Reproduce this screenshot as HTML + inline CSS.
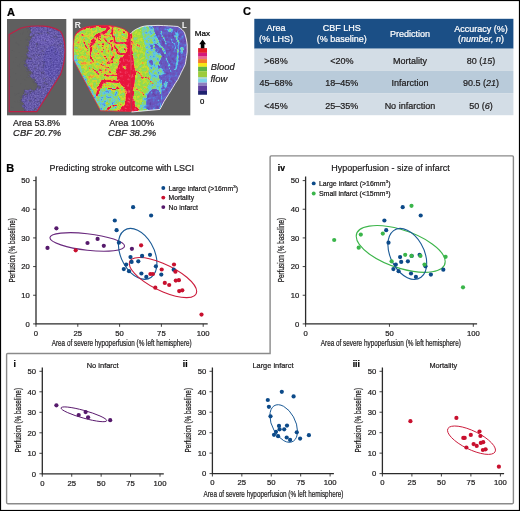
<!DOCTYPE html>
<html><head><meta charset="utf-8"><style>
html,body{margin:0;padding:0;background:#fff;}
body{width:520px;height:511px;overflow:hidden;font-family:"Liberation Sans", sans-serif;}
svg{display:block;will-change:transform;}
text{stroke-width:0.22px;}
</style></head><body>
<svg width="520" height="511" viewBox="0 0 520 511" font-family='"Liberation Sans", sans-serif'>
<rect width="520" height="511" fill="#fff"/>
<text x="7" y="15.5" font-size="11" font-weight="bold" fill="#000" stroke="#000" stroke-width="0.1">A</text>
<defs><clipPath id="lclip"><path d="M9.1,34.6 L20.5,28.2 C24,27 27,26.4 30.4,26.2 C34,26 38,25.9 43,26.1 C49,26.5 56,28.3 60.5,31.4 C63.2,35 64.8,42 65,50 C65,57 64.4,64 60.5,74.6 L36.8,111.6 L9.2,111.6 Z"/></clipPath>
<filter id="lspk" x="7" y="19" width="60" height="97" filterUnits="userSpaceOnUse" color-interpolation-filters="sRGB"><feGaussianBlur in="SourceAlpha" stdDeviation="2.2" result="b"/><feColorMatrix in="b" type="matrix" values="0 0 0 1 0 0 0 0 1 0 0 0 0 1 0 0 0 0 0 1" result="bg"/><feTurbulence type="fractalNoise" baseFrequency="0.28" numOctaves="3" seed="11" result="n"/><feColorMatrix in="n" type="matrix" values="1 0 0 0 0 1 0 0 0 0 1 0 0 0 0 0 0 0 0 1" result="ng"/><feComposite in="bg" in2="ng" operator="arithmetic" k1="0" k2="1" k3="1.2" k4="-0.6" result="m"/><feColorMatrix in="m" type="matrix" values="0 0 0 0 0 0 0 0 0 0 0 0 0 0 0 1 0 0 0 0" result="ma"/><feComponentTransfer in="ma" result="mt"><feFuncA type="table" tableValues="0 0 0.15 0.65 0.92 0.95"/></feComponentTransfer><feFlood flood-color="#6e60b8" result="pc"/><feComposite in="pc" in2="mt" operator="in"/><feGaussianBlur stdDeviation="0.4"/></filter><filter id="pspk" x="7" y="19" width="60" height="97" filterUnits="userSpaceOnUse" color-interpolation-filters="sRGB"><feTurbulence type="fractalNoise" baseFrequency="0.7" numOctaves="2" seed="5" result="n"/><feColorMatrix in="n" type="matrix" values="1 0 0 0 0 1 0 0 0 0 1 0 0 0 0 0 0 0 0 1" result="ng"/><feComposite in="SourceGraphic" in2="ng" operator="arithmetic" k1="0" k2="1" k3="0.32" k4="-0.16"/><feComposite operator="in" in2="SourceGraphic"/></filter></defs>
<rect x="7" y="19" width="59.3" height="96.3" fill="#5f5f5f"/>
<g clip-path="url(#lclip)"><g filter="url(#pspk)"><g filter="url(#lspk)">
<path d="M27,24 L27.7,28 C29,31 30.5,33 30.4,35 C29.5,39 28.5,42 28.2,45 C27.6,50 27,53 26.8,55 C26,58 25.2,61 25,62 C24.5,65 25,67 27.7,68 C28.2,71 28.4,73 28.6,75 C30,77 31.5,79 33.3,80 C35,82 36,84 37,85 C38.5,86.5 39.5,88 40,89 C36,89.5 30,89.5 24,90.5 C22,94 21,97 21,100 C21.5,104 22.5,107 23,112 L70,112 L70,24 Z" fill="#6f62c6"/>
<circle cx="18.5" cy="43.5" r="1.3" fill="#6f62c6"/>
<circle cx="20.5" cy="63" r="1.0" fill="#6f62c6"/>
<circle cx="22" cy="70" r="0.9" fill="#6f62c6"/>
<circle cx="25" cy="80" r="0.9" fill="#6f62c6"/>
<circle cx="21" cy="58" r="0.8" fill="#6f62c6"/>
</g>
<ellipse cx="52" cy="62" rx="9" ry="16" fill="#5a4fb4" opacity="0.5"/>
<ellipse cx="45" cy="40" rx="10" ry="6" fill="#7464c0" opacity="0.5"/>
</g></g>
<path d="M9.1,34.6 L20.5,28.2 C24,27 27,26.4 30.4,26.2 C34,26 38,25.9 43,26.1 C49,26.5 56,28.3 60.5,31.4 C63.2,35 64.8,42 65,50 C65,57 64.4,64 60.5,74.6 L36.8,111.6 L9.2,111.6 Z" fill="none" stroke="#bf1f45" stroke-width="1.15"/>
<defs>
<clipPath id="rh"><path d="M130.3,34 C127,30.5 124,28.8 121,28 C116,26.5 112,25.5 106,25.4 C100,25.3 92,25.6 86,27 C81,28.2 77.5,31 75.5,34.5 C73.8,38 73.3,43 73.3,50 L73.4,60 L100.5,110.8 L130.8,111.4 Z"/></clipPath><clipPath id="lhh"><path d="M130.3,34 C132.5,31.5 135,29.5 138,28.4 C140.5,27 143,26.2 147,25.8 L158,25.4 C166,25.6 172,26 177.9,26.5 C181,28.5 183.5,30.5 184.6,33 C186,37 186.8,41 187.2,45 L187.2,52 C186.6,57 185.8,61 185.2,64.6 C182.5,70 180,75 177.9,79.5 C174,85 171.5,90 168.6,94.3 C165.5,99 162.5,104 160,109.4 L131.5,112 Z"/></clipPath>
<filter id="cmap" x="72" y="18" width="120" height="98" filterUnits="userSpaceOnUse" color-interpolation-filters="sRGB"><feTurbulence type="fractalNoise" baseFrequency="0.12" numOctaves="2" seed="21" result="d"/><feDisplacementMap in="SourceGraphic" in2="d" scale="5" xChannelSelector="R" yChannelSelector="G" result="disp"/><feGaussianBlur in="disp" stdDeviation="0.75" result="b"/><feTurbulence type="fractalNoise" baseFrequency="0.32" numOctaves="2" seed="7" result="n"/><feColorMatrix in="n" type="matrix" values="1 0 0 0 0 1 0 0 0 0 1 0 0 0 0 0 0 0 0 1" result="ng"/><feTurbulence type="fractalNoise" baseFrequency="0.45" numOctaves="1" seed="3" result="m"/><feColorMatrix in="m" type="matrix" values="0 1 0 0 0 0 1 0 0 0 0 1 0 0 0 0 0 0 0 1" result="mg"/><feComponentTransfer in="mg" result="ms"><feFuncR type="table" tableValues="0 0 0 0.1 0.5 1"/><feFuncG type="table" tableValues="0 0 0 0.1 0.5 1"/><feFuncB type="table" tableValues="0 0 0 0.1 0.5 1"/></feComponentTransfer><feComposite in="b" in2="ng" operator="arithmetic" k1="0" k2="1" k3="0.55" k4="-0.275" result="s1"/><feComposite in="s1" in2="ms" operator="arithmetic" k1="0" k2="1" k3="0.3" k4="0" result="s"/><feComponentTransfer in="s"><feFuncR type="table" tableValues="0.376 0.424 0.400 0.329 0.361 0.541 0.596 0.804 0.965 0.941 0.910"/><feFuncG type="table" tableValues="0.251 0.314 0.369 0.510 0.784 0.839 0.863 0.871 0.627 0.235 0.086"/><feFuncB type="table" tableValues="0.635 0.714 0.776 0.871 0.933 0.471 0.243 0.196 0.204 0.392 0.243"/><feFuncA type="identity"/></feComponentTransfer><feGaussianBlur stdDeviation="0.35"/></filter>
<filter id="cmapL" x="72" y="18" width="120" height="98" filterUnits="userSpaceOnUse" color-interpolation-filters="sRGB"><feTurbulence type="fractalNoise" baseFrequency="0.12" numOctaves="2" seed="21" result="d"/><feDisplacementMap in="SourceGraphic" in2="d" scale="5" xChannelSelector="R" yChannelSelector="G" result="disp"/><feGaussianBlur in="disp" stdDeviation="0.75" result="b"/><feTurbulence type="fractalNoise" baseFrequency="0.32" numOctaves="2" seed="9" result="n"/><feColorMatrix in="n" type="matrix" values="1 0 0 0 0 1 0 0 0 0 1 0 0 0 0 0 0 0 0 1" result="ng"/><feTurbulence type="fractalNoise" baseFrequency="0.45" numOctaves="1" seed="3" result="m"/><feColorMatrix in="m" type="matrix" values="0 1 0 0 0 0 1 0 0 0 0 1 0 0 0 0 0 0 0 1" result="mg"/><feComponentTransfer in="mg" result="ms"><feFuncR type="table" tableValues="0 0 0 0.1 0.5 1"/><feFuncG type="table" tableValues="0 0 0 0.1 0.5 1"/><feFuncB type="table" tableValues="0 0 0 0.1 0.5 1"/></feComponentTransfer><feComposite in="b" in2="ng" operator="arithmetic" k1="0" k2="1" k3="0.42" k4="-0.21" result="s1"/><feComposite in="s1" in2="ms" operator="arithmetic" k1="0" k2="1" k3="0.3" k4="0" result="s"/><feComponentTransfer in="s"><feFuncR type="table" tableValues="0.376 0.424 0.400 0.329 0.361 0.541 0.596 0.804 0.965 0.941 0.910"/><feFuncG type="table" tableValues="0.251 0.314 0.369 0.510 0.784 0.839 0.863 0.871 0.627 0.235 0.086"/><feFuncB type="table" tableValues="0.635 0.714 0.776 0.871 0.933 0.471 0.243 0.196 0.204 0.392 0.243"/><feFuncA type="identity"/></feComponentTransfer><feGaussianBlur stdDeviation="0.35"/></filter>
<filter id="vb" x="-20%" y="-20%" width="140%" height="140%"><feGaussianBlur stdDeviation="0.5"/></filter>
</defs>
<rect x="72.8" y="18.7" width="117.5" height="96.7" fill="#5f5f5f"/>
<g clip-path="url(#rh)"><g filter="url(#cmap)">
<rect x="72" y="18" width="62" height="98" fill="#9f9f9f"/>
<path d="M72,50 L76,52 C78,58 79,62 80,66 L86,78 C89,84 92,88 95,93 L100,100 L104,112 L72,112 Z" fill="#6e6e6e"/>
<path d="M97,92 C100,88 106,87 112,88 C117,89 119,93 119,99 C119,104 117,108 114,110 L100,112 Z" fill="#6e6e6e"/>
<ellipse cx="75" cy="57" rx="3" ry="4" fill="#6e6e6e"/>
<path d="M72,20 L134,20 L134,33 C131,32.5 128,30.5 124,29 C118,27.5 110,27 100,27.2 C92,27.5 85,28.8 80,31 L72,37 Z" fill="#ffffff"/>
<path d="M127.8,30 L132.2,30 L132.4,50 C133,56 134,62 134.5,68 C135,74 135,80 134.5,86 C134,92 133.5,98 134,104 C135,107 138,109 141,112 L116,112 C119,110 122,108 124.5,105 C126,100 126,94 125,89 C123,86 119,83 117,78 C117,72 118,66 119.5,61 C122,57 125,54 127,51 Z" fill="#fff"/>
<g stroke="#fff" fill="none" stroke-linecap="round">
<path d="M118,82 C112,80.5 107,80.5 103,82 C100,84 98.5,88 97.5,95" stroke-width="2.8"/>
<path d="M118,76 C113,75 109,75 105,76" stroke-width="1.5"/>
<path d="M118,89 C114,90 111,90 108,89" stroke-width="1.4"/>
<path d="M134.5,72 C139,74.5 144,77 148,79 C150,80 152,81 154,82.5" stroke-width="1.0"/>
<path d="M136,88 C139,90 141,92 143,95" stroke-width="0.9"/>
<path d="M118,104 C114,105 110,107 106,110" stroke-width="1.6"/>
</g>
<g stroke="#fff" fill="none" stroke-linecap="round" stroke-linejoin="round">
<path d="M111,27 C107,30 103,32.5 99,35 C96,37 93.5,39 92,42" stroke-width="3.0"/>
<path d="M92,42 C91,46 90.5,50 90.6,55 C90.8,58 91,60 92,62" stroke-width="1.8"/>
<path d="M113,29 C113.5,33 114,37 115,42" stroke-width="1.7"/>
<path d="M115,42.5 C119,43.5 123,43.5 128,42.5" stroke-width="1.3"/>
<path d="M116,45 C116,48 116.5,51 118,53.5 C121,54.5 124,54 127,53" stroke-width="1.4"/>
<path d="M114,53 C112.5,56 111,59 109,62" stroke-width="1.5"/>
<path d="M84,40 C85,44 86,47 87.5,50" stroke-width="1.1"/>
<path d="M100,64 C103,66 106,68 110,70" stroke-width="1.1"/>
<path d="M94,68 C96,70 98,72 99,75" stroke-width="1.0"/>
<path d="M105,38 C106,42 108,45 111,47" stroke-width="1.3"/>
</g>
<circle cx="101.8" cy="33.9" r="0.88" fill="#dfdfdf"/>
<circle cx="99.1" cy="39.2" r="1.24" fill="#f7f7f7"/>
<circle cx="110.2" cy="36.0" r="0.98" fill="#e3e3e3"/>
<circle cx="100.8" cy="33.9" r="0.75" fill="#fcfcfc"/>
<circle cx="111.3" cy="46.5" r="1.16" fill="#e0e0e0"/>
<circle cx="103.0" cy="43.3" r="1.11" fill="#f9f9f9"/>
<circle cx="112.1" cy="33.6" r="1.02" fill="#f2f2f2"/>
<circle cx="106.1" cy="35.2" r="0.93" fill="#dcdcdc"/>
<circle cx="113.0" cy="47.6" r="0.98" fill="#e4e4e4"/>
<circle cx="112.5" cy="42.3" r="1.22" fill="#f9f9f9"/>
<circle cx="106.1" cy="39.5" r="1.02" fill="#e9e9e9"/>
<circle cx="100.6" cy="37.5" r="1.17" fill="#dadada"/>
<circle cx="98.7" cy="43.3" r="0.80" fill="#ededed"/>
<circle cx="105.5" cy="38.2" r="1.30" fill="#e0e0e0"/>
<circle cx="104.6" cy="35.6" r="1.04" fill="#e3e3e3"/>
<circle cx="103.7" cy="45.4" r="0.82" fill="#eeeeee"/>
<circle cx="112.5" cy="33.8" r="0.64" fill="#e2e2e2"/>
<circle cx="110.2" cy="43.1" r="0.77" fill="#e5e5e5"/>
<circle cx="100.8" cy="40.3" r="0.63" fill="#f3f3f3"/>
<circle cx="112.3" cy="49.2" r="1.11" fill="#fdfdfd"/>
<circle cx="98.3" cy="37.2" r="1.28" fill="#f6f6f6"/>
<circle cx="104.6" cy="49.0" r="1.03" fill="#f8f8f8"/>
<circle cx="90.8" cy="63.4" r="0.91" fill="#c6c6c6"/>
<circle cx="93.4" cy="77.3" r="0.83" fill="#c0c0c0"/>
<circle cx="83.3" cy="63.1" r="1.15" fill="#d2d2d2"/>
<circle cx="90.7" cy="61.7" r="1.29" fill="#d5d5d5"/>
<circle cx="88.2" cy="61.1" r="0.64" fill="#c8c8c8"/>
<circle cx="102.3" cy="62.7" r="0.63" fill="#d8d8d8"/>
<circle cx="89.5" cy="78.0" r="0.69" fill="#dadada"/>
<circle cx="105.2" cy="67.4" r="1.29" fill="#d8d8d8"/>
<circle cx="89.3" cy="67.4" r="0.63" fill="#d5d5d5"/>
<circle cx="89.5" cy="76.0" r="1.18" fill="#d9d9d9"/>
<circle cx="82.9" cy="64.6" r="0.77" fill="#cacaca"/>
<circle cx="88.9" cy="75.7" r="0.70" fill="#c2c2c2"/>
<circle cx="109.8" cy="70.2" r="1.29" fill="#d4d4d4"/>
<circle cx="109.0" cy="71.8" r="1.15" fill="#e5e5e5"/>
<circle cx="96.8" cy="61.7" r="0.75" fill="#ececec"/>
<circle cx="109.0" cy="76.6" r="0.84" fill="#e1e1e1"/>
<circle cx="106.0" cy="71.6" r="1.17" fill="#dadada"/>
<circle cx="101.6" cy="72.3" r="0.79" fill="#eeeeee"/>
<circle cx="110.7" cy="61.3" r="1.28" fill="#f0f0f0"/>
<circle cx="102.1" cy="60.8" r="1.23" fill="#c6c6c6"/>
<circle cx="111.1" cy="72.0" r="0.64" fill="#c8c8c8"/>
<circle cx="101.1" cy="70.2" r="1.12" fill="#efefef"/>
<circle cx="82.4" cy="36.1" r="1.25" fill="#b8b8b8"/>
<circle cx="95.5" cy="38.5" r="1.17" fill="#dcdcdc"/>
<circle cx="95.6" cy="48.1" r="1.22" fill="#c1c1c1"/>
<circle cx="91.4" cy="43.3" r="1.22" fill="#dbdbdb"/>
<circle cx="87.4" cy="47.6" r="0.62" fill="#b9b9b9"/>
<circle cx="89.9" cy="46.8" r="1.21" fill="#d4d4d4"/>
<circle cx="80.8" cy="44.0" r="1.14" fill="#d0d0d0"/>
<circle cx="78.2" cy="54.4" r="1.18" fill="#bcbcbc"/>
<circle cx="88.9" cy="44.4" r="1.15" fill="#c6c6c6"/>
<circle cx="82.7" cy="46.7" r="1.28" fill="#bcbcbc"/>
<circle cx="80.3" cy="49.7" r="1.22" fill="#cfcfcf"/>
<circle cx="86.7" cy="54.9" r="1.14" fill="#bbbbbb"/>
<circle cx="95.6" cy="40.3" r="0.81" fill="#dedede"/>
<circle cx="86.4" cy="53.6" r="0.72" fill="#e0e0e0"/>
<circle cx="103.2" cy="51.8" r="0.95" fill="#dddddd"/>
<circle cx="109.8" cy="60.8" r="1.10" fill="#cccccc"/>
<circle cx="105.6" cy="56.5" r="0.94" fill="#f0f0f0"/>
<circle cx="108.7" cy="50.9" r="0.77" fill="#f7f7f7"/>
<circle cx="106.4" cy="59.2" r="1.29" fill="#ececec"/>
<circle cx="112.2" cy="57.3" r="0.82" fill="#fbfbfb"/>
<circle cx="108.4" cy="60.9" r="0.81" fill="#f8f8f8"/>
<circle cx="114.2" cy="57.4" r="0.91" fill="#d3d3d3"/>
<circle cx="113.9" cy="54.3" r="1.06" fill="#d3d3d3"/>
<circle cx="101.5" cy="51.7" r="1.17" fill="#d5d5d5"/>
<circle cx="127.0" cy="39.7" r="1.00" fill="#dedede"/>
<circle cx="124.2" cy="32.4" r="0.88" fill="#fcfcfc"/>
<circle cx="119.8" cy="47.0" r="0.83" fill="#dbdbdb"/>
<circle cx="118.2" cy="30.5" r="1.26" fill="#f6f6f6"/>
<circle cx="126.0" cy="51.0" r="1.27" fill="#d4d4d4"/>
<circle cx="123.8" cy="42.9" r="1.00" fill="#fcfcfc"/>
<circle cx="125.6" cy="55.2" r="0.68" fill="#ededed"/>
<circle cx="124.8" cy="49.4" r="1.03" fill="#f6f6f6"/>
<circle cx="121.0" cy="54.1" r="0.88" fill="#ebebeb"/>
<circle cx="127.0" cy="48.3" r="0.82" fill="#d8d8d8"/>
<ellipse cx="124" cy="68" rx="1.6" ry="2.5" fill="#adadad"/>
</g></g>
<g clip-path="url(#lhh)"><g filter="url(#cmapL)">
<rect x="128" y="18" width="62" height="98" fill="#242424"/>
<path d="M128,20 L152,20 C153,30 155,40 156,46 C157,54 157.5,60 158,66 C159,72 160,78 161,82 C162,86 163,88 163,90 L160,112 L128,112 Z" fill="#6e6e6e"/>
<path d="M128,20 L140,20 C141,28 142.5,36 144,42 C145.5,50 146.5,58 147.5,65 C148.5,71 149.5,76 149.5,80 C149,86 148,90 145,94 C142,98 140,104 139,112 L128,112 Z" fill="#999999"/>
<path d="M147,112 C146,104 146,98 148,94 C151,89 156,88 160,90 C162,94 162,100 160,106 L158,112 Z" fill="#262626"/>
<ellipse cx="143" cy="27" rx="8" ry="2.5" fill="#737373"/>
<ellipse cx="158" cy="58" rx="3" ry="4" fill="#6b6b6b"/>
<ellipse cx="162" cy="72" rx="3.5" ry="3" fill="#6b6b6b"/>
<ellipse cx="156" cy="40" rx="2.5" ry="3" fill="#6b6b6b"/>
<ellipse cx="166" cy="84" rx="2.5" ry="2.5" fill="#666666"/>
<ellipse cx="151" cy="62" rx="2" ry="3" fill="#333333"/>
<ellipse cx="153" cy="47" rx="1.8" ry="2.5" fill="#383838"/>
<ellipse cx="150" cy="28" rx="2" ry="1.5" fill="#404040"/>
<ellipse cx="170" cy="30" rx="3" ry="2" fill="#5c5c5c"/>
<ellipse cx="182" cy="50" rx="2" ry="4" fill="#5c5c5c"/>
<path d="M127.8,30 L132.2,30 L132.4,50 C133,56 134,62 134.5,68 C135,74 135,80 134.5,86 C134,92 133.5,98 134,104 C135,107 138,109 141,112 L116,112 C119,110 122,108 124.5,105 C126,100 126,94 125,89 C123,86 119,83 117,78 C117,72 118,66 119.5,61 C122,57 125,54 127,51 Z" fill="#fff"/>
<g stroke="#fff" fill="none" stroke-linecap="round">
<path d="M118,82 C112,80.5 107,80.5 103,82 C100,84 98.5,88 97.5,95" stroke-width="2.8"/>
<path d="M118,76 C113,75 109,75 105,76" stroke-width="1.5"/>
<path d="M118,89 C114,90 111,90 108,89" stroke-width="1.4"/>
<path d="M134.5,72 C139,74.5 144,77 148,79 C150,80 152,81 154,82.5" stroke-width="1.0"/>
<path d="M136,88 C139,90 141,92 143,95" stroke-width="0.9"/>
<path d="M118,104 C114,105 110,107 106,110" stroke-width="1.6"/>
</g>
<g stroke-linecap="round" fill="none">
<path d="M152,32 C156,38 160,44 164,52" stroke="#666666" stroke-width="2.2"/>
<path d="M161,30 C163,35 165,40 167,45" stroke="#6b6b6b" stroke-width="1.2"/>
<path d="M176,33 C177,40 178,47 178,55 C178,60 177,64 176,68" stroke="#666666" stroke-width="2.0"/>
<path d="M166,58 C168,62 170,66 171,72" stroke="#666666" stroke-width="1.1"/>
<path d="M133,42 C137,44 140,46 143,47" stroke="#d9d9d9" stroke-width="1.0"/>
<path d="M158,64 C161,67 163,70 165,73" stroke="#666666" stroke-width="1.0"/>
<path d="M172,40 C174,44 175,48 175,52" stroke="#5c5c5c" stroke-width="1.0"/>
</g>
</g></g>
<path d="M130.3,34 C127,30.5 124,28.8 121,28 C116,26.5 112,25.5 106,25.4 C100,25.3 92,25.6 86,27 C81,28.2 77.5,31 75.5,34.5 C73.8,38 73.3,43 73.3,50 L73.4,60 L100.5,110.8 L130.8,111.4 Z" fill="none" stroke="#e42a3c" stroke-width="0.8"/>
<path d="M130.3,34 C132.5,31.5 135,29.5 138,28.4 C140.5,27 143,26.2 147,25.8 L158,25.4 C166,25.6 172,26 177.9,26.5 C181,28.5 183.5,30.5 184.6,33 C186,37 186.8,41 187.2,45 L187.2,52 C186.6,57 185.8,61 185.2,64.6 C182.5,70 180,75 177.9,79.5 C174,85 171.5,90 168.6,94.3 C165.5,99 162.5,104 160,109.4 L131.5,112" fill="none" stroke="#f2f2f2" stroke-width="0.9"/>
<line x1="130.6" y1="36" x2="131.2" y2="70" stroke="#f4b0c0" stroke-width="0.5" opacity="0.5"/>
<text x="74.8" y="27.5" font-size="8.4" fill="#fff" stroke="#fff" stroke-width="0.1">R</text>
<text x="182" y="27.5" font-size="8.4" fill="#fff" stroke="#fff" stroke-width="0.1">L</text>
<rect x="198.1" y="48.1" width="8.9" height="4.75" fill="#e31e26"/>
<rect x="198.1" y="52.8" width="8.9" height="3.85" fill="#d4197c"/>
<rect x="198.1" y="56.6" width="8.9" height="2.55" fill="#ec6d8c"/>
<rect x="198.1" y="59.1" width="8.9" height="3.95" fill="#f47a2a"/>
<rect x="198.1" y="63" width="8.9" height="3.85" fill="#f7e617"/>
<rect x="198.1" y="66.8" width="8.9" height="4.45" fill="#5db546"/>
<rect x="198.1" y="71.2" width="8.9" height="5.85" fill="#9ccb3b"/>
<rect x="198.1" y="77" width="8.9" height="1.85" fill="#a8d8c8"/>
<rect x="198.1" y="78.8" width="8.9" height="3.85" fill="#7ed3ea"/>
<rect x="198.1" y="82.6" width="8.9" height="3.25" fill="#8e7fc0"/>
<rect x="198.1" y="85.8" width="8.9" height="5.15" fill="#5e3f9e"/>
<rect x="198.1" y="90.9" width="8.9" height="3.85" fill="#1f2370"/>
<path d="M202.6,39.6 L206,44.3 L204.4,44.3 L204.4,48.3 L200.8,48.3 L200.8,44.3 L199.2,44.3 Z" fill="#000"/>
<text x="194.7" y="36.4" font-size="8.1" textLength="15.3" lengthAdjust="spacingAndGlyphs" fill="#000" stroke="#000">Max</text>
<text x="200" y="104" font-size="7.8" fill="#000" stroke="#000">0</text>
<text x="210.8" y="70.4" font-size="9.2" font-style="italic" textLength="23.8" lengthAdjust="spacingAndGlyphs" fill="#1e1c1d" stroke="#1e1c1d">Blood</text>
<text x="210.5" y="81.5" font-size="9.2" font-style="italic" textLength="16.8" lengthAdjust="spacingAndGlyphs" fill="#1e1c1d" stroke="#1e1c1d">flow</text>
<text x="13.1" y="125.8" font-size="9" textLength="47" lengthAdjust="spacingAndGlyphs" fill="#1e1c1d" stroke="#1e1c1d">Area 53.8%</text>
<text x="13.1" y="136.3" font-size="9" font-style="italic" textLength="48" lengthAdjust="spacingAndGlyphs" fill="#1e1c1d" stroke="#1e1c1d">CBF 20.7%</text>
<text x="109.2" y="125.8" font-size="9" textLength="45" lengthAdjust="spacingAndGlyphs" fill="#1e1c1d" stroke="#1e1c1d">Area 100%</text>
<text x="108.1" y="136.3" font-size="9" font-style="italic" textLength="48" lengthAdjust="spacingAndGlyphs" fill="#1e1c1d" stroke="#1e1c1d">CBF 38.2%</text>
<text x="243.1" y="15.4" font-size="11" font-weight="bold" fill="#000" stroke="#000" stroke-width="0.15">C</text>
<rect x="254.3" y="18.8" width="259.1" height="29.9" fill="#1b4f86"/>
<rect x="254.3" y="48.7" width="259.1" height="22.2" fill="#d3dde6"/>
<rect x="254.3" y="70.9" width="259.1" height="22.2" fill="#b9cbda"/>
<rect x="254.3" y="93.1" width="259.1" height="22.1" fill="#d3dde6"/>
<text x="276" y="31" font-size="9" text-anchor="middle" fill="#ffffff" stroke="#ffffff" stroke-width="0.1">Area</text>
<text x="276" y="42" font-size="9" text-anchor="middle" fill="#ffffff" stroke="#ffffff" stroke-width="0.1">(% LHS)</text>
<text x="341.8" y="31" font-size="9" text-anchor="middle" fill="#ffffff" stroke="#ffffff" stroke-width="0.1">CBF LHS</text>
<text x="341.8" y="42" font-size="9" text-anchor="middle" fill="#ffffff" stroke="#ffffff" stroke-width="0.1">(% baseline)</text>
<text x="409.9" y="37" font-size="9" text-anchor="middle" fill="#ffffff" stroke="#ffffff" stroke-width="0.1">Prediction</text>
<text x="481" y="31.5" font-size="9" text-anchor="middle" fill="#ffffff" stroke="#ffffff" stroke-width="0.1">Accuracy (%)</text>
<text x="481" y="42.3" font-size="9" text-anchor="middle" fill="#fff" stroke="#fff" stroke-width="0.1">(<tspan font-style="italic">number, n</tspan>)</text>
<text x="276" y="64.2" font-size="9" text-anchor="middle" fill="#1e1c1d" stroke="#1e1c1d">&gt;68%</text>
<text x="341.8" y="64.2" font-size="9" text-anchor="middle" fill="#1e1c1d" stroke="#1e1c1d">&lt;20%</text>
<text x="409.9" y="64.2" font-size="9" text-anchor="middle" fill="#1e1c1d" stroke="#1e1c1d">Mortality</text>
<text x="481" y="64.2" font-size="9" text-anchor="middle" fill="#1e1c1d" stroke="#1e1c1d">80 (<tspan font-style="italic">15</tspan>)</text>
<text x="276" y="86.4" font-size="9" text-anchor="middle" fill="#1e1c1d" stroke="#1e1c1d">45–68%</text>
<text x="341.8" y="86.4" font-size="9" text-anchor="middle" fill="#1e1c1d" stroke="#1e1c1d">18–45%</text>
<text x="409.9" y="86.4" font-size="9" text-anchor="middle" fill="#1e1c1d" stroke="#1e1c1d">Infarction</text>
<text x="481" y="86.4" font-size="9" text-anchor="middle" fill="#1e1c1d" stroke="#1e1c1d">90.5 (<tspan font-style="italic">21</tspan>)</text>
<text x="276" y="108.6" font-size="9" text-anchor="middle" fill="#1e1c1d" stroke="#1e1c1d">&lt;45%</text>
<text x="341.8" y="108.6" font-size="9" text-anchor="middle" fill="#1e1c1d" stroke="#1e1c1d">25–35%</text>
<text x="409.9" y="108.6" font-size="9" text-anchor="middle" fill="#1e1c1d" stroke="#1e1c1d">No infarction</text>
<text x="481" y="108.6" font-size="9" text-anchor="middle" fill="#1e1c1d" stroke="#1e1c1d">50 (<tspan font-style="italic">6</tspan>)</text>
<path d="M270.1,157 Q270.1,155.9 271.2,155.9 H512.3 Q513.4,155.9 513.4,157 V502.6 Q513.4,503.7 512.3,503.7 H7.7 Q6.6,503.7 6.6,502.6 V354.6 Q6.6,353.5 7.7,353.5 H270.1 Z" fill="none" stroke="#8a8a8a" stroke-width="1.4"/>
<text x="6.3" y="171.8" font-size="11" font-weight="bold" fill="#000" stroke="#000" stroke-width="0.1">B</text>
<text x="49.5" y="170.7" font-size="9.5" textLength="144.5" lengthAdjust="spacingAndGlyphs" fill="#1e1c1d" stroke="#1e1c1d">Predicting stroke outcome with LSCI</text>
<path d="M36,176.5 V323.9 H207.7" fill="none" stroke="#2b2b2b" stroke-width="1.3"/>
<line x1="33.1" y1="323.90" x2="36" y2="323.90" stroke="#2b2b2b" stroke-width="0.9"/>
<text x="29.8" y="326.65" font-size="7.7" text-anchor="end" fill="#1e1c1d" stroke="#1e1c1d" stroke-width="0.05">0</text>
<line x1="33.1" y1="295.24" x2="36" y2="295.24" stroke="#2b2b2b" stroke-width="0.9"/>
<text x="29.8" y="297.99" font-size="7.7" text-anchor="end" fill="#1e1c1d" stroke="#1e1c1d" stroke-width="0.05">10</text>
<line x1="33.1" y1="266.58" x2="36" y2="266.58" stroke="#2b2b2b" stroke-width="0.9"/>
<text x="29.8" y="269.33" font-size="7.7" text-anchor="end" fill="#1e1c1d" stroke="#1e1c1d" stroke-width="0.05">20</text>
<line x1="33.1" y1="237.92" x2="36" y2="237.92" stroke="#2b2b2b" stroke-width="0.9"/>
<text x="29.8" y="240.67" font-size="7.7" text-anchor="end" fill="#1e1c1d" stroke="#1e1c1d" stroke-width="0.05">30</text>
<line x1="33.1" y1="209.26" x2="36" y2="209.26" stroke="#2b2b2b" stroke-width="0.9"/>
<text x="29.8" y="212.01" font-size="7.7" text-anchor="end" fill="#1e1c1d" stroke="#1e1c1d" stroke-width="0.05">40</text>
<line x1="33.1" y1="180.60" x2="36" y2="180.60" stroke="#2b2b2b" stroke-width="0.9"/>
<text x="29.8" y="183.35" font-size="7.7" text-anchor="end" fill="#1e1c1d" stroke="#1e1c1d" stroke-width="0.05">50</text>
<line x1="36.00" y1="323.9" x2="36.00" y2="326.79999999999995" stroke="#2b2b2b" stroke-width="0.9"/>
<text x="36.0" y="335.7" font-size="7.7" text-anchor="middle" fill="#1e1c1d" stroke="#1e1c1d" stroke-width="0.05">0</text>
<line x1="77.80" y1="323.9" x2="77.80" y2="326.79999999999995" stroke="#2b2b2b" stroke-width="0.9"/>
<text x="77.8" y="335.7" font-size="7.7" text-anchor="middle" fill="#1e1c1d" stroke="#1e1c1d" stroke-width="0.05">25</text>
<line x1="119.60" y1="323.9" x2="119.60" y2="326.79999999999995" stroke="#2b2b2b" stroke-width="0.9"/>
<text x="119.6" y="335.7" font-size="7.7" text-anchor="middle" fill="#1e1c1d" stroke="#1e1c1d" stroke-width="0.05">50</text>
<line x1="161.40" y1="323.9" x2="161.40" y2="326.79999999999995" stroke="#2b2b2b" stroke-width="0.9"/>
<text x="161.4" y="335.7" font-size="7.7" text-anchor="middle" fill="#1e1c1d" stroke="#1e1c1d" stroke-width="0.05">75</text>
<line x1="203.20" y1="323.9" x2="203.20" y2="326.79999999999995" stroke="#2b2b2b" stroke-width="0.9"/>
<text x="203.2" y="335.7" font-size="7.7" text-anchor="middle" fill="#1e1c1d" stroke="#1e1c1d" stroke-width="0.05">100</text>
<text transform="translate(15.4,250.3) rotate(-90)" font-size="8.8" text-anchor="middle" textLength="64.5" lengthAdjust="spacingAndGlyphs" fill="#1e1c1d" stroke="#1e1c1d" stroke-width="0.12">Perfusion (% baseline)</text>
<text x="51.7" y="346.1" font-size="8.7" textLength="140" lengthAdjust="spacingAndGlyphs" fill="#1e1c1d" stroke="#1e1c1d" stroke-width="0.12">Area of severe hypoperfusion (% left hemisphere)</text>
<circle cx="163.3" cy="188.0" r="1.95" fill="#0c4a89"/>
<text x="168.5" y="190.6" font-size="6.9" fill="#1e1c1d" stroke="#1e1c1d" textLength="64.6" lengthAdjust="spacingAndGlyphs">Large infarct (&gt;16mm</text>
<text x="233.29999999999998" y="188.0" font-size="4.4" fill="#1e1c1d" stroke="#1e1c1d" stroke-width="0.1">3</text>
<text x="235.79999999999998" y="190.6" font-size="6.9" fill="#1e1c1d" stroke="#1e1c1d">)</text>
<circle cx="163.3" cy="197.6" r="1.95" fill="#c8102e"/>
<text x="168.5" y="200.2" font-size="6.9" fill="#1e1c1d" stroke="#1e1c1d" textLength="25.6" lengthAdjust="spacingAndGlyphs">Mortality</text>
<circle cx="163.3" cy="207.1" r="1.95" fill="#561a6c"/>
<text x="168.5" y="209.7" font-size="6.9" fill="#1e1c1d" stroke="#1e1c1d" textLength="29.4" lengthAdjust="spacingAndGlyphs">No infarct</text>
<circle r="1" transform="matrix(37.350,4.150,0,8.267,87.25,241.95)" fill="none" stroke="#6a2a7e" stroke-width="1.1" vector-effect="non-scaling-stroke"/>
<circle r="1" transform="matrix(19.250,9.351,0,23.670,137.65,253.85)" fill="none" stroke="#1a5a96" stroke-width="1.1" vector-effect="non-scaling-stroke"/>
<circle r="1" transform="matrix(33.700,13.947,0,14.405,163,277.55)" fill="none" stroke="#cc1c3c" stroke-width="1.1" vector-effect="non-scaling-stroke"/>
<circle cx="47.5" cy="247.9" r="2.1" fill="#561a6c"/>
<circle cx="56.4" cy="228.3" r="2.1" fill="#561a6c"/>
<circle cx="87.5" cy="243.0" r="2.1" fill="#561a6c"/>
<circle cx="97.6" cy="238.9" r="2.1" fill="#561a6c"/>
<circle cx="103.8" cy="245.8" r="2.1" fill="#561a6c"/>
<circle cx="131.9" cy="248.8" r="2.1" fill="#561a6c"/>
<circle cx="133.1" cy="207.2" r="2.1" fill="#0c4a89"/>
<circle cx="151.1" cy="215.5" r="2.1" fill="#0c4a89"/>
<circle cx="114.8" cy="220.5" r="2.1" fill="#0c4a89"/>
<circle cx="116.6" cy="230.2" r="2.1" fill="#0c4a89"/>
<circle cx="118.9" cy="242.7" r="2.1" fill="#0c4a89"/>
<circle cx="130.5" cy="257.1" r="2.1" fill="#0c4a89"/>
<circle cx="142.1" cy="255.9" r="2.1" fill="#0c4a89"/>
<circle cx="150.0" cy="254.8" r="2.1" fill="#0c4a89"/>
<circle cx="131.6" cy="261.9" r="2.1" fill="#0c4a89"/>
<circle cx="138.3" cy="261.3" r="2.1" fill="#0c4a89"/>
<circle cx="126.2" cy="264.6" r="2.1" fill="#0c4a89"/>
<circle cx="123.8" cy="269.1" r="2.1" fill="#0c4a89"/>
<circle cx="129.0" cy="271.2" r="2.1" fill="#0c4a89"/>
<circle cx="155.9" cy="266.3" r="2.1" fill="#0c4a89"/>
<circle cx="141.4" cy="273.5" r="2.1" fill="#0c4a89"/>
<circle cx="146.3" cy="276.9" r="2.1" fill="#0c4a89"/>
<circle cx="161.3" cy="274.6" r="2.1" fill="#0c4a89"/>
<circle cx="173.7" cy="269.7" r="2.1" fill="#0c4a89"/>
<circle cx="75.7" cy="250.3" r="2.1" fill="#c8102e"/>
<circle cx="141.1" cy="245.3" r="2.1" fill="#c8102e"/>
<circle cx="161.7" cy="269.5" r="2.1" fill="#c8102e"/>
<circle cx="174.0" cy="264.5" r="2.1" fill="#c8102e"/>
<circle cx="175.4" cy="271.7" r="2.1" fill="#c8102e"/>
<circle cx="150.4" cy="274.0" r="2.1" fill="#c8102e"/>
<circle cx="152.9" cy="274.0" r="2.1" fill="#c8102e"/>
<circle cx="175.8" cy="280.6" r="2.1" fill="#c8102e"/>
<circle cx="178.9" cy="280.2" r="2.1" fill="#c8102e"/>
<circle cx="164.8" cy="282.9" r="2.1" fill="#c8102e"/>
<circle cx="169.2" cy="285.0" r="2.1" fill="#c8102e"/>
<circle cx="155.3" cy="287.7" r="2.1" fill="#c8102e"/>
<circle cx="179.2" cy="291.1" r="2.1" fill="#c8102e"/>
<circle cx="182.3" cy="290.3" r="2.1" fill="#c8102e"/>
<circle cx="201.5" cy="314.6" r="2.1" fill="#c8102e"/>
<text x="277.8" y="170.8" font-size="8.6" font-weight="bold" fill="#000" stroke="#000" stroke-width="0.1">iv</text>
<text x="331.3" y="170.7" font-size="9.5" textLength="118.4" lengthAdjust="spacingAndGlyphs" fill="#1e1c1d" stroke="#1e1c1d">Hypoperfusion - size of infarct</text>
<path d="M305.6,176.5 V323.9 H477.1" fill="none" stroke="#2b2b2b" stroke-width="1.3"/>
<line x1="302.70000000000005" y1="323.90" x2="305.6" y2="323.90" stroke="#2b2b2b" stroke-width="0.9"/>
<text x="299.40000000000003" y="326.65" font-size="7.7" text-anchor="end" fill="#1e1c1d" stroke="#1e1c1d" stroke-width="0.05">0</text>
<line x1="302.70000000000005" y1="295.24" x2="305.6" y2="295.24" stroke="#2b2b2b" stroke-width="0.9"/>
<text x="299.40000000000003" y="297.99" font-size="7.7" text-anchor="end" fill="#1e1c1d" stroke="#1e1c1d" stroke-width="0.05">10</text>
<line x1="302.70000000000005" y1="266.58" x2="305.6" y2="266.58" stroke="#2b2b2b" stroke-width="0.9"/>
<text x="299.40000000000003" y="269.33" font-size="7.7" text-anchor="end" fill="#1e1c1d" stroke="#1e1c1d" stroke-width="0.05">20</text>
<line x1="302.70000000000005" y1="237.92" x2="305.6" y2="237.92" stroke="#2b2b2b" stroke-width="0.9"/>
<text x="299.40000000000003" y="240.67" font-size="7.7" text-anchor="end" fill="#1e1c1d" stroke="#1e1c1d" stroke-width="0.05">30</text>
<line x1="302.70000000000005" y1="209.26" x2="305.6" y2="209.26" stroke="#2b2b2b" stroke-width="0.9"/>
<text x="299.40000000000003" y="212.01" font-size="7.7" text-anchor="end" fill="#1e1c1d" stroke="#1e1c1d" stroke-width="0.05">40</text>
<line x1="302.70000000000005" y1="180.60" x2="305.6" y2="180.60" stroke="#2b2b2b" stroke-width="0.9"/>
<text x="299.40000000000003" y="183.35" font-size="7.7" text-anchor="end" fill="#1e1c1d" stroke="#1e1c1d" stroke-width="0.05">50</text>
<line x1="305.60" y1="323.9" x2="305.60" y2="326.79999999999995" stroke="#2b2b2b" stroke-width="0.9"/>
<text x="305.6" y="335.7" font-size="7.7" text-anchor="middle" fill="#1e1c1d" stroke="#1e1c1d" stroke-width="0.05">0</text>
<line x1="389.45" y1="323.9" x2="389.45" y2="326.79999999999995" stroke="#2b2b2b" stroke-width="0.9"/>
<text x="389.45" y="335.7" font-size="7.7" text-anchor="middle" fill="#1e1c1d" stroke="#1e1c1d" stroke-width="0.05">50</text>
<line x1="473.30" y1="323.9" x2="473.30" y2="326.79999999999995" stroke="#2b2b2b" stroke-width="0.9"/>
<text x="473.3" y="335.7" font-size="7.7" text-anchor="middle" fill="#1e1c1d" stroke="#1e1c1d" stroke-width="0.05">100</text>
<text transform="translate(284.4,250) rotate(-90)" font-size="8.8" text-anchor="middle" textLength="64.5" lengthAdjust="spacingAndGlyphs" fill="#1e1c1d" stroke="#1e1c1d" stroke-width="0.12">Perfusion (% baseline)</text>
<text x="320.8" y="346.1" font-size="8.7" textLength="140" lengthAdjust="spacingAndGlyphs" fill="#1e1c1d" stroke="#1e1c1d" stroke-width="0.12">Area of severe hypoperfusion (% left hemisphere)</text>
<circle cx="313.7" cy="183.4" r="1.95" fill="#0c4a89"/>
<text x="318.9" y="186.0" font-size="6.9" fill="#1e1c1d" stroke="#1e1c1d" textLength="66.6" lengthAdjust="spacingAndGlyphs">Large infarct (&gt;16mm</text>
<text x="385.7" y="183.4" font-size="4.4" fill="#1e1c1d" stroke="#1e1c1d" stroke-width="0.1">3</text>
<text x="388.2" y="186.0" font-size="6.9" fill="#1e1c1d" stroke="#1e1c1d">)</text>
<circle cx="313.7" cy="193.5" r="1.95" fill="#3ab54a"/>
<text x="318.9" y="196.1" font-size="6.9" fill="#1e1c1d" stroke="#1e1c1d" textLength="66.6" lengthAdjust="spacingAndGlyphs">Small infarct (&lt;15mm</text>
<text x="385.7" y="193.5" font-size="4.4" fill="#1e1c1d" stroke="#1e1c1d" stroke-width="0.1">3</text>
<text x="388.2" y="196.1" font-size="6.9" fill="#1e1c1d" stroke="#1e1c1d">)</text>
<circle r="1" transform="matrix(44.500,12.584,0,19.669,400.7,248.95)" fill="none" stroke="#3cb54a" stroke-width="1.1" vector-effect="non-scaling-stroke"/>
<circle r="1" transform="matrix(19.400,9.278,0,23.698,407.3,253.95)" fill="none" stroke="#1a5a96" stroke-width="1.1" vector-effect="non-scaling-stroke"/>
<circle cx="402.70000000000005" cy="207.2" r="2.1" fill="#0c4a89"/>
<circle cx="420.70000000000005" cy="215.5" r="2.1" fill="#0c4a89"/>
<circle cx="384.40000000000003" cy="220.5" r="2.1" fill="#0c4a89"/>
<circle cx="386.20000000000005" cy="230.2" r="2.1" fill="#0c4a89"/>
<circle cx="388.5" cy="242.7" r="2.1" fill="#0c4a89"/>
<circle cx="400.1" cy="257.1" r="2.1" fill="#0c4a89"/>
<circle cx="411.70000000000005" cy="255.9" r="2.1" fill="#0c4a89"/>
<circle cx="419.6" cy="254.8" r="2.1" fill="#0c4a89"/>
<circle cx="401.20000000000005" cy="261.9" r="2.1" fill="#0c4a89"/>
<circle cx="407.90000000000003" cy="261.3" r="2.1" fill="#0c4a89"/>
<circle cx="395.8" cy="264.6" r="2.1" fill="#0c4a89"/>
<circle cx="393.40000000000003" cy="269.1" r="2.1" fill="#0c4a89"/>
<circle cx="398.6" cy="271.2" r="2.1" fill="#0c4a89"/>
<circle cx="425.5" cy="266.3" r="2.1" fill="#0c4a89"/>
<circle cx="411.0" cy="273.5" r="2.1" fill="#0c4a89"/>
<circle cx="415.90000000000003" cy="276.9" r="2.1" fill="#0c4a89"/>
<circle cx="430.90000000000003" cy="274.6" r="2.1" fill="#0c4a89"/>
<circle cx="443.3" cy="269.7" r="2.1" fill="#0c4a89"/>
<circle cx="334.2" cy="240.0" r="2.1" fill="#3ab54a"/>
<circle cx="358.7" cy="247.7" r="2.1" fill="#3ab54a"/>
<circle cx="360.8" cy="234.6" r="2.1" fill="#3ab54a"/>
<circle cx="382.8" cy="233.6" r="2.1" fill="#3ab54a"/>
<circle cx="411.5" cy="205.8" r="2.1" fill="#3ab54a"/>
<circle cx="405.2" cy="254.8" r="2.1" fill="#3ab54a"/>
<circle cx="411.5" cy="255.9" r="2.1" fill="#3ab54a"/>
<circle cx="420.4" cy="255.9" r="2.1" fill="#3ab54a"/>
<circle cx="391.6" cy="261.3" r="2.1" fill="#3ab54a"/>
<circle cx="424.5" cy="264.6" r="2.1" fill="#3ab54a"/>
<circle cx="445.6" cy="256.8" r="2.1" fill="#3ab54a"/>
<circle cx="463.0" cy="287.3" r="2.1" fill="#3ab54a"/>
<text x="13.6" y="367.1" font-size="8.6" font-weight="bold" fill="#000" stroke="#000" stroke-width="0.1">i</text>
<text x="86.7" y="367.5" font-size="7.7" textLength="32" lengthAdjust="spacingAndGlyphs" fill="#1e1c1d" stroke="#1e1c1d">No infarct</text>
<path d="M42.3,367.4 V473.8 H163.8" fill="none" stroke="#2b2b2b" stroke-width="1.3"/>
<line x1="39.4" y1="473.80" x2="42.3" y2="473.80" stroke="#2b2b2b" stroke-width="0.9"/>
<text x="36.099999999999994" y="476.55" font-size="7.7" text-anchor="end" fill="#1e1c1d" stroke="#1e1c1d" stroke-width="0.05">0</text>
<line x1="39.4" y1="453.30" x2="42.3" y2="453.30" stroke="#2b2b2b" stroke-width="0.9"/>
<text x="36.099999999999994" y="456.05" font-size="7.7" text-anchor="end" fill="#1e1c1d" stroke="#1e1c1d" stroke-width="0.05">10</text>
<line x1="39.4" y1="432.80" x2="42.3" y2="432.80" stroke="#2b2b2b" stroke-width="0.9"/>
<text x="36.099999999999994" y="435.55" font-size="7.7" text-anchor="end" fill="#1e1c1d" stroke="#1e1c1d" stroke-width="0.05">20</text>
<line x1="39.4" y1="412.30" x2="42.3" y2="412.30" stroke="#2b2b2b" stroke-width="0.9"/>
<text x="36.099999999999994" y="415.05" font-size="7.7" text-anchor="end" fill="#1e1c1d" stroke="#1e1c1d" stroke-width="0.05">30</text>
<line x1="39.4" y1="391.80" x2="42.3" y2="391.80" stroke="#2b2b2b" stroke-width="0.9"/>
<text x="36.099999999999994" y="394.55" font-size="7.7" text-anchor="end" fill="#1e1c1d" stroke="#1e1c1d" stroke-width="0.05">40</text>
<line x1="39.4" y1="371.30" x2="42.3" y2="371.30" stroke="#2b2b2b" stroke-width="0.9"/>
<text x="36.099999999999994" y="374.05" font-size="7.7" text-anchor="end" fill="#1e1c1d" stroke="#1e1c1d" stroke-width="0.05">50</text>
<line x1="42.30" y1="473.8" x2="42.30" y2="476.7" stroke="#2b2b2b" stroke-width="0.9"/>
<text x="42.3" y="485.6" font-size="7.7" text-anchor="middle" fill="#1e1c1d" stroke="#1e1c1d" stroke-width="0.05">0</text>
<line x1="71.72" y1="473.8" x2="71.72" y2="476.7" stroke="#2b2b2b" stroke-width="0.9"/>
<text x="71.72" y="485.6" font-size="7.7" text-anchor="middle" fill="#1e1c1d" stroke="#1e1c1d" stroke-width="0.05">25</text>
<line x1="101.15" y1="473.8" x2="101.15" y2="476.7" stroke="#2b2b2b" stroke-width="0.9"/>
<text x="101.15" y="485.6" font-size="7.7" text-anchor="middle" fill="#1e1c1d" stroke="#1e1c1d" stroke-width="0.05">50</text>
<line x1="130.57" y1="473.8" x2="130.57" y2="476.7" stroke="#2b2b2b" stroke-width="0.9"/>
<text x="130.57" y="485.6" font-size="7.7" text-anchor="middle" fill="#1e1c1d" stroke="#1e1c1d" stroke-width="0.05">75</text>
<line x1="160.00" y1="473.8" x2="160.00" y2="476.7" stroke="#2b2b2b" stroke-width="0.9"/>
<text x="160.0" y="485.6" font-size="7.7" text-anchor="middle" fill="#1e1c1d" stroke="#1e1c1d" stroke-width="0.05">100</text>
<text transform="translate(21.1,420.2) rotate(-90)" font-size="8.8" text-anchor="middle" textLength="64.5" lengthAdjust="spacingAndGlyphs" fill="#1e1c1d" stroke="#1e1c1d" stroke-width="0.12">Perfusion (% baseline)</text>
<circle r="1" transform="matrix(22.850,6.280,0,3.914,83.85,414.3)" fill="none" stroke="#5a1a6e" stroke-width="1.0" vector-effect="non-scaling-stroke"/>
<circle cx="56.4" cy="405.3" r="2.1" fill="#561a6c"/>
<circle cx="85.6" cy="412.1" r="2.1" fill="#561a6c"/>
<circle cx="78.7" cy="415.0" r="2.1" fill="#561a6c"/>
<circle cx="88.1" cy="417.3" r="2.1" fill="#561a6c"/>
<circle cx="110.2" cy="420.2" r="2.1" fill="#561a6c"/>
<text x="182.8" y="366.8" font-size="8.6" font-weight="bold" fill="#000" stroke="#000" stroke-width="0.1">ii</text>
<text x="252.4" y="367.5" font-size="7.7" textLength="41.2" lengthAdjust="spacingAndGlyphs" fill="#1e1c1d" stroke="#1e1c1d">Large infarct</text>
<path d="M212.4,367.4 V473.6 H333.9" fill="none" stroke="#2b2b2b" stroke-width="1.3"/>
<line x1="209.5" y1="473.60" x2="212.4" y2="473.60" stroke="#2b2b2b" stroke-width="0.9"/>
<text x="206.20000000000002" y="476.35" font-size="7.7" text-anchor="end" fill="#1e1c1d" stroke="#1e1c1d" stroke-width="0.05">0</text>
<line x1="209.5" y1="453.14" x2="212.4" y2="453.14" stroke="#2b2b2b" stroke-width="0.9"/>
<text x="206.20000000000002" y="455.89" font-size="7.7" text-anchor="end" fill="#1e1c1d" stroke="#1e1c1d" stroke-width="0.05">10</text>
<line x1="209.5" y1="432.68" x2="212.4" y2="432.68" stroke="#2b2b2b" stroke-width="0.9"/>
<text x="206.20000000000002" y="435.43" font-size="7.7" text-anchor="end" fill="#1e1c1d" stroke="#1e1c1d" stroke-width="0.05">20</text>
<line x1="209.5" y1="412.22" x2="212.4" y2="412.22" stroke="#2b2b2b" stroke-width="0.9"/>
<text x="206.20000000000002" y="414.97" font-size="7.7" text-anchor="end" fill="#1e1c1d" stroke="#1e1c1d" stroke-width="0.05">30</text>
<line x1="209.5" y1="391.76" x2="212.4" y2="391.76" stroke="#2b2b2b" stroke-width="0.9"/>
<text x="206.20000000000002" y="394.51" font-size="7.7" text-anchor="end" fill="#1e1c1d" stroke="#1e1c1d" stroke-width="0.05">40</text>
<line x1="209.5" y1="371.30" x2="212.4" y2="371.30" stroke="#2b2b2b" stroke-width="0.9"/>
<text x="206.20000000000002" y="374.05" font-size="7.7" text-anchor="end" fill="#1e1c1d" stroke="#1e1c1d" stroke-width="0.05">50</text>
<line x1="212.40" y1="473.6" x2="212.40" y2="476.5" stroke="#2b2b2b" stroke-width="0.9"/>
<text x="212.4" y="485.4" font-size="7.7" text-anchor="middle" fill="#1e1c1d" stroke="#1e1c1d" stroke-width="0.05">0</text>
<line x1="241.83" y1="473.6" x2="241.83" y2="476.5" stroke="#2b2b2b" stroke-width="0.9"/>
<text x="241.83" y="485.4" font-size="7.7" text-anchor="middle" fill="#1e1c1d" stroke="#1e1c1d" stroke-width="0.05">25</text>
<line x1="271.25" y1="473.6" x2="271.25" y2="476.5" stroke="#2b2b2b" stroke-width="0.9"/>
<text x="271.25" y="485.4" font-size="7.7" text-anchor="middle" fill="#1e1c1d" stroke="#1e1c1d" stroke-width="0.05">50</text>
<line x1="300.68" y1="473.6" x2="300.68" y2="476.5" stroke="#2b2b2b" stroke-width="0.9"/>
<text x="300.68" y="485.4" font-size="7.7" text-anchor="middle" fill="#1e1c1d" stroke="#1e1c1d" stroke-width="0.05">75</text>
<line x1="330.10" y1="473.6" x2="330.10" y2="476.5" stroke="#2b2b2b" stroke-width="0.9"/>
<text x="330.1" y="485.4" font-size="7.7" text-anchor="middle" fill="#1e1c1d" stroke="#1e1c1d" stroke-width="0.05">100</text>
<text transform="translate(190.8,420.2) rotate(-90)" font-size="8.8" text-anchor="middle" textLength="64.5" lengthAdjust="spacingAndGlyphs" fill="#1e1c1d" stroke="#1e1c1d" stroke-width="0.12">Perfusion (% baseline)</text>
<text x="203.5" y="496.8" font-size="8.7" textLength="140" lengthAdjust="spacingAndGlyphs" fill="#1e1c1d" stroke="#1e1c1d" stroke-width="0.12">Area of severe hypoperfusion (% left hemisphere)</text>
<circle r="1" transform="matrix(13.800,7.754,0,17.127,283.7,423.5)" fill="none" stroke="#1a5a96" stroke-width="1.0" vector-effect="non-scaling-stroke"/>
<circle cx="281.8" cy="391.8" r="2.1" fill="#0c4a89"/>
<circle cx="293.6" cy="396.4" r="2.1" fill="#0c4a89"/>
<circle cx="267.8" cy="400.0" r="2.1" fill="#0c4a89"/>
<circle cx="268.9" cy="406.8" r="2.1" fill="#0c4a89"/>
<circle cx="270.5" cy="416.3" r="2.1" fill="#0c4a89"/>
<circle cx="279.0" cy="425.9" r="2.1" fill="#0c4a89"/>
<circle cx="287.0" cy="425.6" r="2.1" fill="#0c4a89"/>
<circle cx="279.6" cy="429.3" r="2.1" fill="#0c4a89"/>
<circle cx="284.2" cy="429.3" r="2.1" fill="#0c4a89"/>
<circle cx="276.0" cy="431.8" r="2.1" fill="#0c4a89"/>
<circle cx="274.0" cy="434.8" r="2.1" fill="#0c4a89"/>
<circle cx="278.1" cy="436.2" r="2.1" fill="#0c4a89"/>
<circle cx="286.7" cy="437.5" r="2.1" fill="#0c4a89"/>
<circle cx="290.1" cy="439.9" r="2.1" fill="#0c4a89"/>
<circle cx="296.8" cy="432.3" r="2.1" fill="#0c4a89"/>
<circle cx="300.1" cy="438.6" r="2.1" fill="#0c4a89"/>
<circle cx="308.9" cy="435.2" r="2.1" fill="#0c4a89"/>
<text x="352.7" y="366.8" font-size="8.6" font-weight="bold" fill="#000" stroke="#000" stroke-width="0.1">iii</text>
<text x="429.4" y="367.5" font-size="7.7" textLength="27.7" lengthAdjust="spacingAndGlyphs" fill="#1e1c1d" stroke="#1e1c1d">Mortality</text>
<path d="M382.4,367.4 V473.6 H504.1" fill="none" stroke="#2b2b2b" stroke-width="1.3"/>
<line x1="379.5" y1="473.60" x2="382.4" y2="473.60" stroke="#2b2b2b" stroke-width="0.9"/>
<text x="376.2" y="476.35" font-size="7.7" text-anchor="end" fill="#1e1c1d" stroke="#1e1c1d" stroke-width="0.05">0</text>
<line x1="379.5" y1="453.14" x2="382.4" y2="453.14" stroke="#2b2b2b" stroke-width="0.9"/>
<text x="376.2" y="455.89" font-size="7.7" text-anchor="end" fill="#1e1c1d" stroke="#1e1c1d" stroke-width="0.05">10</text>
<line x1="379.5" y1="432.68" x2="382.4" y2="432.68" stroke="#2b2b2b" stroke-width="0.9"/>
<text x="376.2" y="435.43" font-size="7.7" text-anchor="end" fill="#1e1c1d" stroke="#1e1c1d" stroke-width="0.05">20</text>
<line x1="379.5" y1="412.22" x2="382.4" y2="412.22" stroke="#2b2b2b" stroke-width="0.9"/>
<text x="376.2" y="414.97" font-size="7.7" text-anchor="end" fill="#1e1c1d" stroke="#1e1c1d" stroke-width="0.05">30</text>
<line x1="379.5" y1="391.76" x2="382.4" y2="391.76" stroke="#2b2b2b" stroke-width="0.9"/>
<text x="376.2" y="394.51" font-size="7.7" text-anchor="end" fill="#1e1c1d" stroke="#1e1c1d" stroke-width="0.05">40</text>
<line x1="379.5" y1="371.30" x2="382.4" y2="371.30" stroke="#2b2b2b" stroke-width="0.9"/>
<text x="376.2" y="374.05" font-size="7.7" text-anchor="end" fill="#1e1c1d" stroke="#1e1c1d" stroke-width="0.05">50</text>
<line x1="382.40" y1="473.6" x2="382.40" y2="476.5" stroke="#2b2b2b" stroke-width="0.9"/>
<text x="382.4" y="485.4" font-size="7.7" text-anchor="middle" fill="#1e1c1d" stroke="#1e1c1d" stroke-width="0.05">0</text>
<line x1="411.90" y1="473.6" x2="411.90" y2="476.5" stroke="#2b2b2b" stroke-width="0.9"/>
<text x="411.9" y="485.4" font-size="7.7" text-anchor="middle" fill="#1e1c1d" stroke="#1e1c1d" stroke-width="0.05">25</text>
<line x1="441.40" y1="473.6" x2="441.40" y2="476.5" stroke="#2b2b2b" stroke-width="0.9"/>
<text x="441.4" y="485.4" font-size="7.7" text-anchor="middle" fill="#1e1c1d" stroke="#1e1c1d" stroke-width="0.05">50</text>
<line x1="470.90" y1="473.6" x2="470.90" y2="476.5" stroke="#2b2b2b" stroke-width="0.9"/>
<text x="470.9" y="485.4" font-size="7.7" text-anchor="middle" fill="#1e1c1d" stroke="#1e1c1d" stroke-width="0.05">75</text>
<line x1="500.40" y1="473.6" x2="500.40" y2="476.5" stroke="#2b2b2b" stroke-width="0.9"/>
<text x="500.4" y="485.4" font-size="7.7" text-anchor="middle" fill="#1e1c1d" stroke="#1e1c1d" stroke-width="0.05">100</text>
<text transform="translate(361.2,420.2) rotate(-90)" font-size="8.8" text-anchor="middle" textLength="64.5" lengthAdjust="spacingAndGlyphs" fill="#1e1c1d" stroke="#1e1c1d" stroke-width="0.12">Perfusion (% baseline)</text>
<circle r="1" transform="matrix(24.000,9.917,0,10.164,471.5,440.2)" fill="none" stroke="#cc1c3c" stroke-width="1.0" vector-effect="non-scaling-stroke"/>
<circle cx="410.4" cy="421.2" r="2.1" fill="#c8102e"/>
<circle cx="456.4" cy="417.9" r="2.1" fill="#c8102e"/>
<circle cx="479.5" cy="431.5" r="2.1" fill="#c8102e"/>
<circle cx="470.8" cy="434.9" r="2.1" fill="#c8102e"/>
<circle cx="463.3" cy="437.9" r="2.1" fill="#c8102e"/>
<circle cx="464.7" cy="437.9" r="2.1" fill="#c8102e"/>
<circle cx="480.4" cy="436.0" r="2.1" fill="#c8102e"/>
<circle cx="473.6" cy="444.1" r="2.1" fill="#c8102e"/>
<circle cx="476.7" cy="445.9" r="2.1" fill="#c8102e"/>
<circle cx="480.8" cy="442.9" r="2.1" fill="#c8102e"/>
<circle cx="483.2" cy="442.2" r="2.1" fill="#c8102e"/>
<circle cx="466.4" cy="447.5" r="2.1" fill="#c8102e"/>
<circle cx="482.9" cy="450.0" r="2.1" fill="#c8102e"/>
<circle cx="485.6" cy="449.3" r="2.1" fill="#c8102e"/>
<circle cx="498.9" cy="466.7" r="2.1" fill="#c8102e"/>
<rect x="0.5" y="0.5" width="519" height="510" fill="none" stroke="#000" stroke-width="1.2"/>
</svg>
</body></html>
